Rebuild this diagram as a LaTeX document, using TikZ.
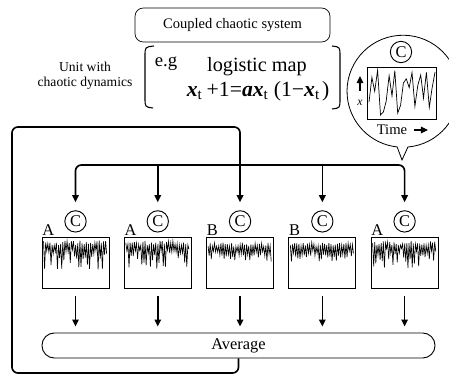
\documentclass[tikz,border=0pt]{standalone}
\usepackage{fontspec}
\setmainfont{Liberation Serif}
\usetikzlibrary{positioning,chains,arrows.meta}

\begin{document}
\begin{tikzpicture}[x=0.03cm, y=-0.03cm, >={Triangle[length=6pt,width=5.5pt]},
    unit/.style={rectangle, draw, line width=0.8pt, minimum width=2.01cm, minimum height=1.53cm, inner sep=0pt},
    chaos/.style={circle, draw, line width=0.8pt, minimum size=0.64cm, inner sep=0pt, font=\fontsize{14}{14}\selectfont},
    kind/.style={anchor=south west, inner sep=0.5pt, font=\fontsize{14}{14}\selectfont},
    flow/.style={->, line width=1.4pt},
    wave/.style={line width=0.55pt},
    start chain=going right, node distance=0.43cm]
    \useasboundingbox (0,0) rectangle (449,375);
    \clip (0,0) rectangle (449,375);
    \pgfmathsetseed{7}

    \node[draw, line width=0.6pt, rounded corners=0.25cm, minimum width=5.85cm, minimum height=1.02cm, font=\fontsize{12.4}{14}\selectfont] (sys) at (232.5,25) {Coupled chaotic system};
    \node[align=center, font=\fontsize{11.6}{12.8}\selectfont] (dyn) at (85,76) {Unit with\\chaotic dynamics};
    \node[font=\fontsize{16}{16}\selectfont] (eg) at (166,64) {e.g};
    \node[font=\fontsize{17.3}{17.3}\selectfont] (lm) at (257,67) {logistic map};
    \node[font=\fontsize{18.5}{18.5}\selectfont] (eq) at (258,91) {\textbf{\textit{x}}\textsubscript{t}\hspace{0.2em}+1=\textbf{\textit{ax}}\textsubscript{t}\hspace{0.25em}(1−\textbf{\textit{x}}\textsubscript{t}\hspace{0.1em})};
    \draw[line width=0.9pt] (154,46) .. controls (145,47) .. (145,56) -- (145,98) .. controls (145,107) .. (153,108);
    \draw[line width=0.9pt] (332,46) .. controls (340,47) .. (340,56) -- (340,99) .. controls (340,108) .. (332,109);

    % zoom bubble
    \node[circle, minimum size=3.36cm, inner sep=0pt] (bub) at (403,91) {};
    \coordinate (tip) at (402,160);
    \draw[line width=0.7pt] (bub.-85) arc[start angle=-85, end angle=264, radius=1.68cm] -- (tip) -- cycle;
    \node[chaos] (cb) at (401,52) {C};
    \node[draw, line width=0.8pt, minimum width=2.07cm, minimum height=1.56cm, inner sep=0pt] (pb) at (401.5,93) {};
    \draw[line width=0.6pt] plot coordinates {(369,102.2) (371.9,77.4) (374.7,91.3) (377.6,70.3) (380.5,115.0) (383.4,111.9) (386.2,101.1) (389.1,75.7) (392,95.9) (394.8,70.7) (397.7,113.1) (400.6,105.2) (403.4,83.0) (406.3,78.8) (409.2,87.6) (412,72.6) (414.9,106.3) (417.8,85.4) (420.7,75.0) (423.5,98.1) (426.4,72.3) (429.3,107.4) (432.1,88.0) (435,72.2)};
    \node[font=\itshape\fontsize{10}{10}\selectfont] (xl) at (360,103) {x};
    \coordinate (xa) at (360,76);
    \draw[->, line width=1pt, shorten <=0.15cm] (xl) -- (xa);
    \node[font=\fontsize{12.5}{12.5}\selectfont] (tm) at (392,130) {Time};
    \coordinate (ta) at (428,130);
    \draw[->, line width=1pt, shorten <=0.08cm] (tm) -- (ta);

    % units
    \node[unit, on chain] (u1) at (75.5,262.5) {};
    \node[unit, on chain] (u2) {};
    \node[unit, on chain] (u3) {};
    \node[unit, on chain] (u4) {};
    \node[unit, on chain] (u5) {};
    \node[chaos, above=0.12cm of u1] (c1) {C};
    \node[chaos, above=0.12cm of u2] (c2) {C};
    \node[chaos, above=0.12cm of u3] (c3) {C};
    \node[chaos, above=0.12cm of u4] (c4) {C};
    \node[chaos, above=0.12cm of u5] (c5) {C};
    \node[kind] (k1) at (u1.north west) {A};
    \node[kind] (k2) at (u2.north west) {A};
    \node[kind] (k3) at (u3.north west) {B};
    \node[kind] (k4) at (u4.north west) {B};
    \node[kind] (k5) at (u5.north west) {A};
    \draw[wave, shift={(u1.north west)}] plot[domain=0:59, samples=60] ({2+\x*1.07}, {ifthenelse(mod(round(\x),2)==0, 4+5*rnd, 12+21*rnd)});
    \draw[wave, shift={(u2.north west)}] plot[domain=0:59, samples=60] ({2+\x*1.07}, {ifthenelse(mod(round(\x),2)==0, 4+5*rnd, 12+21*rnd)});
    \draw[wave, shift={(u3.north west)}] plot[domain=0:59, samples=60] ({2+\x*1.07}, {ifthenelse(mod(round(\x),2)==0, 6+4*rnd, 14+11*rnd)});
    \draw[wave, shift={(u4.north west)}] plot[domain=0:59, samples=60] ({2+\x*1.07}, {ifthenelse(mod(round(\x),2)==0, 6+4*rnd, 14+11*rnd)});
    \draw[wave, shift={(u5.north west)}] plot[domain=0:59, samples=60] ({2+\x*1.07}, {ifthenelse(mod(round(\x),2)==0, 4+5*rnd, 12+21*rnd)});

    \node[draw, line width=0.8pt, rounded corners=0.37cm, minimum width=11.79cm, minimum height=0.75cm, font=\fontsize{14}{14}\selectfont] (avg) at (238.5,345.5) {Average};

    % coupling
    \coordinate (bus) at (238,165);
    \coordinate (lb) at (12,373);
    \coordinate (lt) at (12,127);
    \draw[<->, line width=1.4pt, rounded corners=5pt, shorten <=0.24cm, shorten >=0.24cm] (c1) |- (bus) -| (c5);
    \draw[flow, shorten >=0.24cm] (c2 |- bus) -- (c2);
    \draw[flow, shorten >=0.24cm] (c4 |- bus) -- (c4);
    \draw[flow, rounded corners=5pt, shorten >=0.24cm] (avg) |- (lb) |- (c3 |- lt) -- (c3);
    \draw[flow, shorten <=0.24cm, shorten >=0.18cm] (u1) -- (u1 |- avg.north);
    \draw[flow, shorten <=0.24cm, shorten >=0.18cm] (u2) -- (u2 |- avg.north);
    \draw[flow, shorten <=0.24cm, shorten >=0.18cm] (u3) -- (u3 |- avg.north);
    \draw[flow, shorten <=0.24cm, shorten >=0.18cm] (u4) -- (u4 |- avg.north);
    \draw[flow, shorten <=0.24cm, shorten >=0.18cm] (u5) -- (u5 |- avg.north);
\end{tikzpicture}
\end{document}
